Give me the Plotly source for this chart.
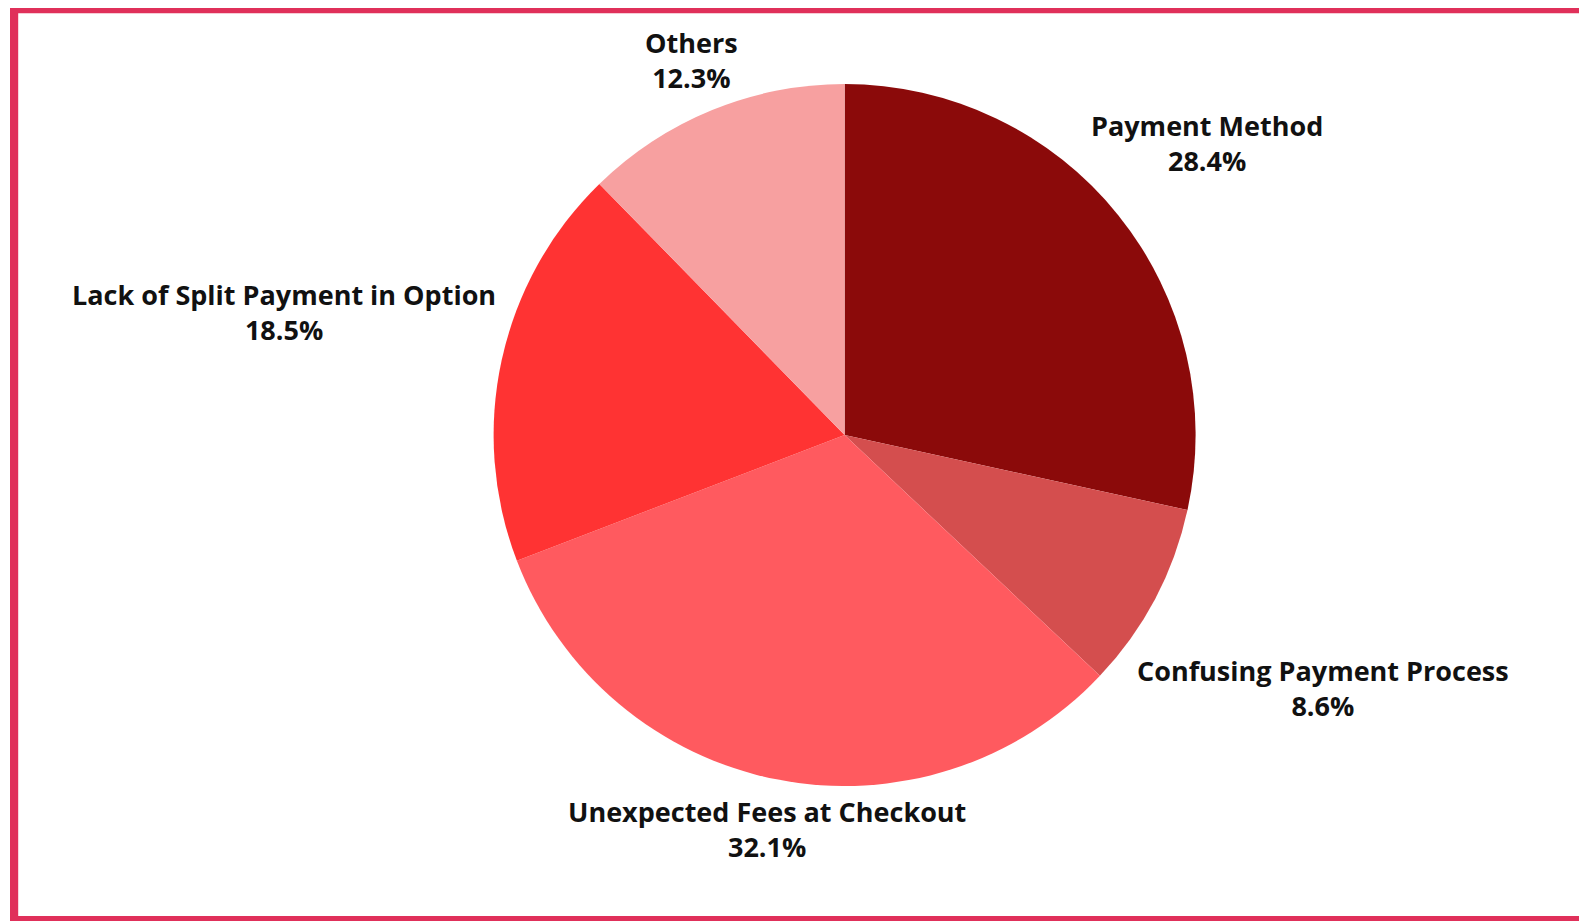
import math
import plotly.graph_objects as go

categories = ["Payment Method", "Confusing Payment Process", "Unexpected Fees at Checkout",
              "Lack of Split Payment in Option", "Others"]
values = [28.4, 8.6, 32.1, 18.5, 12.3]
colors = ["#8B0A0A", "#D44E4E", "#FF5A5F", "#FF3333", "#F7A0A0"]

# style: distance (px) of each label block centre from the pie centre
label_dist = [465, 541, 402, 574, 405]

W, H = 1588, 914
L, R, T, B = 0, 0, 76, 136
ph = H - T - B
rad = ph / 2
cx, cy = 836.6, T + rad

fig = go.Figure(go.Pie(
    labels=categories,
    values=values,
    sort=False,
    direction="clockwise",
    rotation=0,
    marker=dict(colors=colors, line=dict(width=0)),
    textinfo="none",
    showlegend=False,
    hoverinfo="label+value",
    domain=dict(x=[(cx - rad) / W, (cx + rad) / W], y=[0, 1]),
))

def px_x(x):
    return (x - L) / (W - L - R)

def px_y(y):
    return (H - B - y) / ph

total = sum(values)
annotations = []
cum = 0.0
for cat, v, d in zip(categories, values, label_dist):
    mid = (cum + v / 2) / total * 2 * math.pi
    cum += v
    lx = cx + d * math.sin(mid)
    ly = cy - d * math.cos(mid)
    annotations.append(dict(
        x=px_x(lx), y=px_y(ly), xref="paper", yref="paper",
        xanchor="center", yanchor="middle", showarrow=False, align="center",
        text=f"<b>{cat}</b><br><b>{v:.1f}%</b>",
        font=dict(family="Open Sans", size=27, color="#111111"),
    ))

border = "#E0305A"
shapes = []
for x0, y0, x1, y1 in [(2, -5, 10.2, 925), (2, -5, 1600, 5.2), (2, 908, 1600, 925)]:
    shapes.append(dict(type="rect", xref="paper", yref="paper",
                       x0=px_x(x0), x1=px_x(x1), y0=px_y(y1), y1=px_y(y0),
                       fillcolor=border, line=dict(width=0), layer="above"))

fig.update_layout(
    width=W, height=H,
    margin=dict(l=L, r=R, t=T, b=B),
    paper_bgcolor="white",
    plot_bgcolor="white",
    shapes=shapes,
    annotations=annotations,
)

fig.write_html("out.html")
